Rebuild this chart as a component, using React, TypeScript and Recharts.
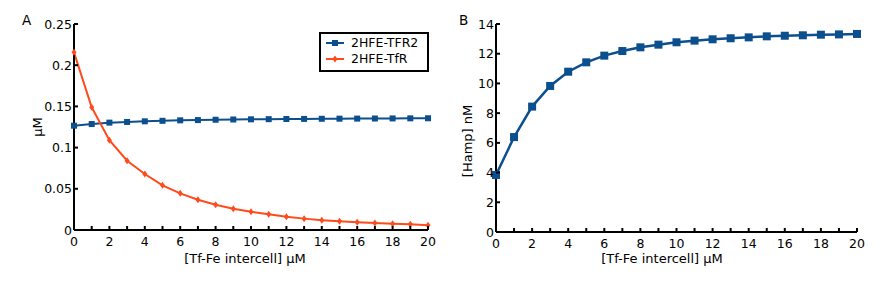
import React from "react";
import { Label, Line, LineChart, XAxis, YAxis } from "recharts";

const xValues = [0, 1, 2, 3, 4, 5, 6, 7, 8, 9, 10, 11, 12, 13, 14, 15, 16, 17, 18, 19, 20];
const tfr2 = [
  0.1266, 0.1286, 0.1303, 0.1311, 0.1319, 0.1325, 0.1331, 0.1334, 0.1338, 0.1341, 0.1343, 0.1345, 0.1347,
  0.1348, 0.135, 0.1351, 0.1352, 0.1353, 0.1354, 0.1355, 0.1356
];
const tfr = [
  0.2156, 0.1489, 0.109, 0.0841, 0.068, 0.0542, 0.0445, 0.0368, 0.0307, 0.0259, 0.0222, 0.019, 0.0162,
  0.0138, 0.0117, 0.0105, 0.0093, 0.0085, 0.0077, 0.0069, 0.0057
];
const hamp = [
  3.84, 6.39, 8.44, 9.83, 10.79, 11.42, 11.87, 12.18, 12.43, 12.61, 12.77, 12.88, 12.97, 13.04, 13.1, 13.17,
  13.21, 13.24, 13.28, 13.3, 13.33
];
const xTicks = [0, 1, 2, 3, 4, 5, 6, 7, 8, 9, 10, 11, 12, 13, 14, 15, 16, 17, 18, 19, 20];
const yTicksA = [0, 0.05, 0.1, 0.15, 0.2, 0.25];
const yTicksB = [0, 2, 4, 6, 8, 10, 12, 14];

const BLUE = "#0b4f8e";
const RED = "#ff4a1c";
const FONT = "'DejaVu Sans', sans-serif";

const dataA = xValues.map((x, i) => ({ x, tfr2: tfr2[i], tfr: tfr[i] }));
const dataB = xValues.map((x, i) => ({ x, hamp: hamp[i] }));

const XTick = (props: any) => {
  const { x, y, payload } = props;
  return (
    <g>
      <line x1={x} x2={x} y1={y} y2={y - 4} stroke="#000" strokeWidth={2} />
      {payload.value % 2 === 0 ? (
        <text x={x} y={y + 15.5} textAnchor="middle" fontSize={12.5} fontFamily={FONT} fill="#000">
          {payload.value}
        </text>
      ) : null}
    </g>
  );
};

const YTick = (props: any) => {
  const { x, y, payload } = props;
  return (
    <g>
      <line x1={x} x2={x + 4} y1={y} y2={y} stroke="#000" strokeWidth={2} />
      <text x={x - 2} y={y + 4.5} textAnchor="end" fontSize={12.5} fontFamily={FONT} fill="#000">
        {payload.value}
      </text>
    </g>
  );
};

const square = (size: number) => (p: any) => (
  <rect key={p.index} x={p.cx - size / 2} y={p.cy - size / 2} width={size} height={size} fill={BLUE} />
);

const diamond = (p: any) => (
  <path
    key={p.index}
    d={`M${p.cx},${p.cy - 3.5} L${p.cx + 2.5},${p.cy} L${p.cx},${p.cy + 3.5} L${p.cx - 2.5},${p.cy} Z`}
    fill={RED}
  />
);

const legendRows = [
  { name: "2HFE-TFR2", color: BLUE, marker: "square" },
  { name: "2HFE-TfR", color: RED, marker: "diamond" }
];

const LegendBox = () => (
  <div
    style={{
      position: "absolute",
      left: 319,
      top: 32,
      border: "2px solid #000",
      background: "#fff",
      width: 106,
      height: 35,
      fontFamily: FONT,
      fontSize: 12.5,
      paddingTop: 1
    }}
  >
    {legendRows.map((r) => (
      <div key={r.name} style={{ display: "flex", alignItems: "center", height: 16 }}>
        <svg width={30} height={16}>
          <line x1={5} x2={23} y1={8} y2={8} stroke={r.color} strokeWidth={2} />
          {r.marker === "square" ? (
            <rect x={11} y={5} width={6} height={6} fill={r.color} />
          ) : (
            <path d="M14,4.5 L16.5,8 L14,11.5 L11.5,8 Z" fill={r.color} />
          )}
        </svg>
        <span style={{ lineHeight: "16px" }}>{r.name}</span>
      </div>
    ))}
  </div>
);

const textLabel = (value: string, x: number, y: number, rotate = false) => () =>
  (
    <text
      x={x}
      y={y}
      textAnchor="middle"
      fontSize={13}
      fontFamily={FONT}
      fill="#000"
      transform={rotate ? `rotate(-90 ${x} ${y})` : undefined}
    >
      {value}
    </text>
  );

export default function App() {
  return (
    <div style={{ position: "absolute", left: 0, top: 0, width: 883, height: 293, background: "#fff" }}>
      <div style={{ position: "absolute", left: 22, top: 12, fontFamily: FONT, fontSize: 13.5 }}>A</div>
      <div style={{ position: "absolute", left: 459, top: 12, fontFamily: FONT, fontSize: 13.5 }}>B</div>

      <div style={{ position: "absolute", left: 0, top: 0 }}>
        <LineChart width={440} height={293} data={dataA} margin={{ top: 24, right: 12, left: 34, bottom: 43 }}>
          <XAxis
            dataKey="x"
            type="number"
            domain={[0, 20]}
            ticks={xTicks}
            interval={0}
            tick={<XTick />}
            tickLine={false}
            tickSize={0}
            tickMargin={0}
            height={20}
            axisLine={{ stroke: "#000", strokeWidth: 2 }}
          >
            <Label content={textLabel("[Tf-Fe intercell] μM", 245, 262.5)} />
          </XAxis>
          <YAxis
            type="number"
            domain={[0, 0.25]}
            ticks={yTicksA}
            interval={0}
            tick={<YTick />}
            tickLine={false}
            tickSize={0}
            tickMargin={0}
            width={40}
            axisLine={{ stroke: "#000", strokeWidth: 2 }}
          >
            <Label content={textLabel("μM", 42, 127, true)} />
          </YAxis>
          <Line dataKey="tfr2" stroke={BLUE} strokeWidth={2} dot={square(6)} isAnimationActive={false} />
          <Line dataKey="tfr" stroke={RED} strokeWidth={2} dot={diamond} isAnimationActive={false} />
        </LineChart>
      </div>
      <LegendBox />

      <div style={{ position: "absolute", left: 440, top: 0 }}>
        <LineChart width={443} height={293} data={dataB} margin={{ top: 24, right: 26, left: 16, bottom: 41 }}>
          <XAxis
            dataKey="x"
            type="number"
            domain={[0, 20]}
            ticks={xTicks}
            interval={0}
            tick={<XTick />}
            tickLine={false}
            tickSize={0}
            tickMargin={0}
            height={20}
            axisLine={{ stroke: "#000", strokeWidth: 2 }}
          >
            <Label content={textLabel("[Tf-Fe intercell] μM", 222, 263)} />
          </XAxis>
          <YAxis
            type="number"
            domain={[0, 14]}
            ticks={yTicksB}
            interval={0}
            tick={<YTick />}
            tickLine={false}
            tickSize={0}
            tickMargin={0}
            width={40}
            axisLine={{ stroke: "#000", strokeWidth: 2 }}
          >
            <Label content={textLabel("[Hamp] nM", 32, 141, true)} />
          </YAxis>
          <Line dataKey="hamp" stroke={BLUE} strokeWidth={2.5} dot={square(8)} isAnimationActive={false} />
        </LineChart>
      </div>
    </div>
  );
}
